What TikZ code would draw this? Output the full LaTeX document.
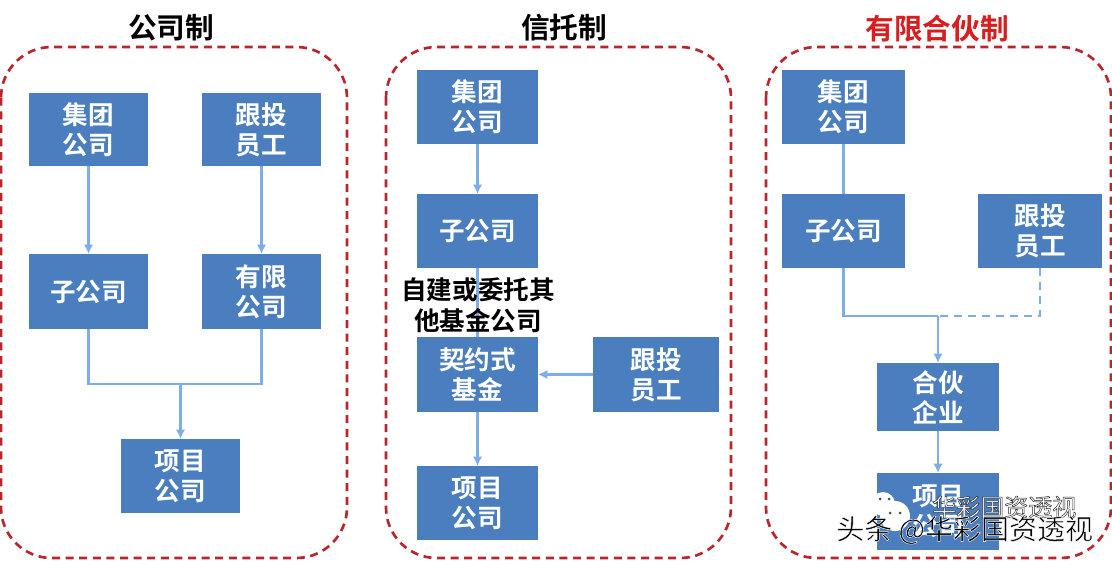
\documentclass[tikz,border=0pt]{standalone}
\usepackage{fontspec}
\setmainfont{Noto Sans CJK SC}[BoldFont={Noto Sans CJK SC Bold}]
\usetikzlibrary{arrows.meta,calc}
\definecolor{boxblue}{HTML}{4A7EBE}
\definecolor{linkblue}{HTML}{7FAEE6}
\definecolor{dashred}{HTML}{B8262C}
\definecolor{titlered}{HTML}{D81E1E}
\newcommand{\outlined}[2]{\special{pdf:code 2 Tr 0.35 w #1 RG}#2\special{pdf:code 0 Tr 1 w}}
\tikzset{
  x=0.75pt,y=-0.75pt,
  bx/.style={fill=boxblue,draw=none,inner sep=0pt,outer sep=0pt,align=center,text=white,font=\fontsize{19.2pt}{22.5pt}\selectfont\bfseries},
  link/.style={draw=linkblue,line width=1.9pt},
  arr/.style={link,-{Latex[length=7pt,width=7pt]}},
  panel/.style={draw=dashred,line width=2pt,dash pattern=on 6pt off 4.2pt,rounded corners=38pt},
  ttl/.style={font=\fontsize{21.5pt}{24pt}\selectfont\bfseries,inner sep=0pt},
  lbl/.style={font=\fontsize{19.2pt}{23.5pt}\selectfont\bfseries,align=center,inner sep=0pt},
  wm/.style={font=\fontsize{#1}{#1}\selectfont,inner sep=0pt,anchor=west},
}
\newcommand{\mybox}[6]{\node[bx,minimum width=#4*0.75pt-#2*0.75pt,minimum height=#5*0.75pt-#3*0.75pt,anchor=north west] (#1) at (#2,#3) {\raisebox{-1.2pt}{\parbox{\dimexpr #4pt*3/4-#2pt*3/4\relax}{\centering #6}}};}
\begin{document}
\begin{tikzpicture}
\useasboundingbox[fill=white] (0,0) rectangle (1112,560);
% panels
\draw[panel] (1,47) rectangle (347,558);
\draw[panel] (386,47) rectangle (731,558);
\draw[panel] (766,47) rectangle (1111,558);
% titles
\node[ttl] (t1) at (171,28) {公司制};
\node[ttl] (t2) at (564,28) {信托制};
\node[ttl,text=titlered] (t3) at (937,29) {有限合伙制};
% left
\mybox{a1}{29}{93}{148}{166}{集团\\公司}
\mybox{a2}{202}{93}{321}{166}{跟投\\员工}
\mybox{a3}{29}{254}{148}{329}{子公司}
\mybox{a4}{202}{254}{321}{329}{有限\\公司}
\mybox{a5}{121}{439}{240}{513}{项目\\公司}
\draw[arr] (a1) -- (a3);
\draw[arr] (a2) -- (a4);
\coordinate (aj) at (a5.north |- 0,384);
\draw[link] (a3.south) |- (aj);
\draw[link] (a4.south) |- (aj);
\draw[arr] (aj) -- (a5);
% middle
\mybox{b1}{417}{70}{538}{144}{集团\\公司}
\mybox{b2}{417}{194}{538}{268}{子公司}
\mybox{b3}{417}{337}{538}{412}{契约式\\基金}
\mybox{b4}{593}{337}{719}{412}{跟投\\员工}
\mybox{b5}{417}{466}{538}{540}{项目\\公司}
\draw[arr] (b1) -- (b2);
\draw[link] (b2) -- (b3);
\draw[arr] (b4) -- (b3);
\draw[arr] (b3) -- (b5);
\node[lbl] (blabel) at (478,305) {自建或委托其\\他基金公司};
% right
\mybox{c1}{782}{70}{905}{144}{集团\\公司}
\mybox{c2}{782}{194}{905}{268}{子公司}
\mybox{c3}{978}{194}{1102}{268}{跟投\\员工}
\mybox{c4}{877}{363}{999}{431}{合伙\\企业}
\mybox{c5}{877}{473}{999}{550}{项目\\公司}
\draw[link] (c1) -- (c2);
\coordinate (cj) at (c4.north |- 0,316);
\draw[link] (c2.south) |- (cj);
\draw[link,dash pattern=on 6pt off 4.5pt] (c3.south) |- (cj);
\draw[arr] (cj) -- (c4);
\draw[arr] (c4) -- (c5);
% watermark
\fill[white] (883,504) circle (12) (895,516) circle (15);
\fill[black!70] (880,499) circle (1.5) (889,499) circle (1.5) (890,513) circle (1.5) (900,513) circle (1.5);
\node[wm=18pt,text=white] (w1) at (932,507) {\outlined{0.15 0.15 0.15}{华彩国资透视}};
\node[wm=21pt,text=black] (w2) at (836,530) {\outlined{1 1 1}{头条 @华彩国资透视}};
\end{tikzpicture}
\end{document}
